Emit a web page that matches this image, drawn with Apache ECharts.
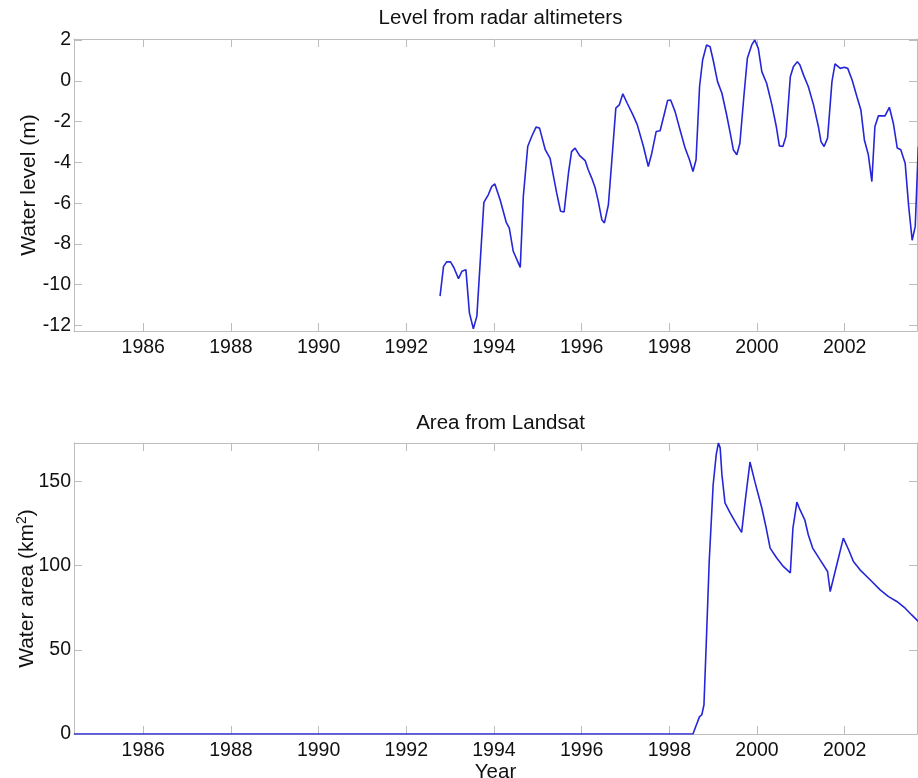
<!DOCTYPE html>
<html>
<head>
<meta charset="utf-8">
<script src="https://cdn.jsdelivr.net/npm/echarts@6/dist/echarts.min.js"></script>
<style>
  html, body { margin: 0; padding: 0; background: #ffffff; }
  #chart { width: 918px; height: 778px; }
</style>
</head>
<body>
<div id="chart"></div>
<script>
// Radar altimetry water level (decimal year, metres)
const levelYears = [
  1992.77, 1992.85, 1992.92, 1993.01, 1993.09, 1993.19, 1993.27, 1993.36, 1993.44, 1993.53,
  1993.61, 1993.68, 1993.77, 1993.87, 1993.95, 1994.02, 1994.14, 1994.28, 1994.35, 1994.44,
  1994.60, 1994.67, 1994.77, 1994.86, 1994.96, 1995.04, 1995.17, 1995.28, 1995.43, 1995.52,
  1995.60, 1995.70, 1995.77, 1995.85, 1995.95, 1996.08, 1996.15, 1996.23, 1996.31, 1996.38,
  1996.46, 1996.52, 1996.61, 1996.69, 1996.78, 1996.86, 1996.94, 1997.04, 1997.17, 1997.27,
  1997.41, 1997.52, 1997.60, 1997.70, 1997.79, 1997.89, 1997.96, 1998.03, 1998.13, 1998.25,
  1998.36, 1998.46, 1998.54, 1998.61, 1998.69, 1998.76, 1998.85, 1998.93, 1999.00, 1999.10,
  1999.20, 1999.30, 1999.39, 1999.46, 1999.54, 1999.61, 1999.70, 1999.78, 1999.88, 1999.95,
  2000.03, 2000.11, 2000.22, 2000.34, 2000.44, 2000.51, 2000.59, 2000.66, 2000.76, 2000.83,
  2000.92, 2000.98, 2001.06, 2001.17, 2001.29, 2001.40, 2001.46, 2001.53, 2001.61, 2001.71,
  2001.78, 2001.90, 2001.99, 2002.07, 2002.17, 2002.28, 2002.37, 2002.45, 2002.54, 2002.62,
  2002.69, 2002.77, 2002.92, 2003.02, 2003.11, 2003.20, 2003.28, 2003.38, 2003.46, 2003.54,
  2003.61, 2003.68
];
const levelValues = [
  -10.56, -9.10, -8.88, -8.88, -9.18, -9.70, -9.34, -9.26, -11.38, -12.16,
  -11.54, -9.10, -5.96, -5.59, -5.18, -5.06, -5.83, -6.94, -7.22, -8.36,
  -9.15, -5.67, -3.22, -2.73, -2.27, -2.32, -3.38, -3.80, -5.50, -6.40,
  -6.43, -4.52, -3.47, -3.30, -3.66, -3.91, -4.36, -4.77, -5.26, -5.91,
  -6.81, -6.97, -6.08, -3.87, -1.34, -1.18, -0.64, -1.10, -1.67, -2.16,
  -3.22, -4.20, -3.55, -2.49, -2.45, -1.59, -0.97, -0.94, -1.50, -2.45,
  -3.30, -3.87, -4.45, -3.87, -0.28, 1.02, 1.76, 1.67, 1.02, -0.04,
  -0.61, -1.59, -2.57, -3.38, -3.63, -3.06, -0.78, 1.10, 1.76, 2.00,
  1.59, 0.45, -0.12, -1.18, -2.24, -3.19, -3.22, -2.73, 0.20, 0.69,
  0.94, 0.78, 0.29, -0.28, -1.18, -2.24, -2.98, -3.22, -2.81, -0.04,
  0.83, 0.61, 0.66, 0.61, 0.04, -0.78, -1.43, -2.90, -3.63, -4.94,
  -2.24, -1.72, -1.72, -1.30, -2.08, -3.30, -3.38, -4.04, -6.16, -7.82,
  -7.14, -3.22
];

// Landsat water area (decimal year, km²)
const areaYears = [
  1984.42, 1998.54, 1998.61, 1998.69, 1998.74, 1998.79, 1998.85, 1998.91, 1999.00, 1999.07,
  1999.12, 1999.16, 1999.20, 1999.27, 1999.39, 1999.54, 1999.65, 1999.73, 1999.84, 1999.95,
  2000.11, 2000.21, 2000.30, 2000.45, 2000.60, 2000.76, 2000.82, 2000.91, 2000.98, 2001.09,
  2001.17, 2001.27, 2001.44, 2001.61, 2001.67, 2001.82, 2001.97, 2002.09, 2002.20, 2002.35,
  2002.58, 2002.81, 2003.00, 2003.19, 2003.38, 2003.53, 2003.68
];
const areaValues = [
  0, 0, 4.9, 10.3, 11.3, 17.2, 58.9, 102.4, 148.0, 165.9,
  172.8, 169.9, 154.0, 137.2, 131.2, 124.3, 119.7, 138.1, 161.5, 150.0,
  134.2, 122.3, 110.4, 104.5, 99.5, 95.7, 122.3, 137.7, 133.2, 127.2,
  118.3, 110.4, 103.4, 96.5, 84.6, 100.5, 116.3, 109.4, 102.4, 97.5,
  91.6, 85.6, 81.6, 78.7, 74.7, 70.7, 66.8
];

// Tick positions
const yearTicks = [1986, 1988, 1990, 1992, 1994, 1996, 1998, 2000, 2002];
const levelTicks = [-12, -10, -8, -6, -4, -2, 0, 2];
const areaTicks = [0, 50, 100, 150];

const FONT = "'Liberation Sans', Arial, Helvetica, sans-serif";
const TEXT = '#111111';
const FRAME = '#bdbdbd';
const LINE = '#2626d9';
const X_MIN = 1984.42, X_MAX = 2003.65;

const pairs = (xs, ys) => xs.map((x, i) => [x, ys[i]]);

function xAxisFor(gridIndex, pos, ticks, showLabels, name) {
  return {
    type: 'value', gridIndex, position: pos, min: X_MIN, max: X_MAX,
    name: name || '', nameLocation: 'middle', nameGap: 26,
    nameTextStyle: { fontFamily: FONT, fontSize: 20.5, color: TEXT },
    axisLine: { show: true, onZero: false, lineStyle: { color: FRAME, width: 1 } },
    axisTick: { show: true, inside: true, length: 8, customValues: ticks, lineStyle: { color: FRAME } },
    axisLabel: { show: showLabels, customValues: ticks, margin: 7, fontFamily: FONT, fontSize: 19.5, color: TEXT,
                 formatter: v => String(v) },
    splitLine: { show: false }
  };
}

function yAxisFor(gridIndex, pos, min, max, ticks, showLabels, name) {
  return {
    type: 'value', gridIndex, position: pos, min, max,
    name: name || '', nameLocation: 'middle', nameGap: 34, nameMoveOverlap: false,
    nameTextStyle: {
      fontFamily: FONT, fontSize: 21, color: TEXT,
      rich: {
        a: { fontFamily: FONT, fontSize: 21, color: TEXT, lineHeight: 25 },
        s: { fontFamily: FONT, fontSize: 14, color: TEXT, verticalAlign: 'top', lineHeight: 25 }
      }
    },
    axisLine: { show: true, onZero: false, lineStyle: { color: FRAME, width: 1 } },
    axisTick: { show: true, inside: true, length: 8, customValues: ticks, lineStyle: { color: FRAME } },
    axisLabel: { show: showLabels, customValues: ticks, margin: 3, fontFamily: FONT, fontSize: 19.5, color: TEXT },
    splitLine: { show: false }
  };
}

const chart = echarts.init(document.getElementById('chart'), null, { renderer: 'canvas' });

chart.setOption({
  animation: false,
  backgroundColor: '#ffffff',
  title: [
    { text: 'Level from radar altimeters', left: 495.5, top: 3, textAlign: 'center',
      textStyle: { fontFamily: FONT, fontSize: 20.5, fontWeight: 'normal', color: TEXT } },
    { text: 'Area from Landsat', left: 495.5, top: 408, textAlign: 'center',
      textStyle: { fontFamily: FONT, fontSize: 20.5, fontWeight: 'normal', color: TEXT } }
  ],
  grid: [
    { left: 74, top: 39, width: 843, height: 292, outerBoundsMode: 'none', containLabel: false },
    { left: 74, top: 443, width: 843, height: 291, outerBoundsMode: 'none', containLabel: false }
  ],
  xAxis: [
    xAxisFor(0, 'bottom', yearTicks, true),
    xAxisFor(0, 'top', yearTicks, false),
    xAxisFor(1, 'bottom', yearTicks, true, 'Year'),
    xAxisFor(1, 'top', yearTicks, false)
  ],
  yAxis: [
    yAxisFor(0, 'left', -12.27, 2.05, levelTicks, true, 'Water level (m)'),
    yAxisFor(0, 'right', -12.27, 2.05, levelTicks, false),
    yAxisFor(1, 'left', 0, 172.8, areaTicks, true, '{a|Water area (km}{s|2}{a|)}'),
    yAxisFor(1, 'right', 0, 172.8, areaTicks, false)
  ],
  series: [
    {
      type: 'line', xAxisIndex: 0, yAxisIndex: 0, data: pairs(levelYears, levelValues),
      showSymbol: false, symbol: 'none', clip: true,
      lineStyle: { color: LINE, width: 1.6 }
    },
    {
      type: 'line', xAxisIndex: 2, yAxisIndex: 2, data: pairs(areaYears, areaValues),
      showSymbol: false, symbol: 'none', clip: true,
      lineStyle: { color: LINE, width: 1.6 }
    }
  ]
});
</script>
</body>
</html>
